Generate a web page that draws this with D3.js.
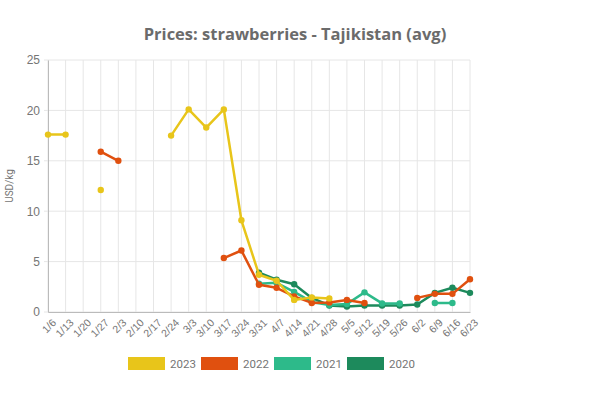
<!DOCTYPE html>
<html>
<head>
<meta charset="utf-8">
<script src="https://cdn.jsdelivr.net/npm/d3@7"></script>
<style>
  body { margin: 0; background: #fff; }
  svg { display: block; font-family: Roboto, "Open Sans", sans-serif; }
</style>
</head>
<body>
<svg id="chart" width="600" height="398"></svg>
<script>
const weeks = ["1/6","1/13","1/20","1/27","2/3","2/10","2/17","2/24","3/3","3/10","3/17","3/24","3/31",
  "4/7","4/14","4/21","4/28","5/5","5/12","5/19","5/26","6/2","6/9","6/16","6/23"]
const yTicks = [0, 5, 10, 15, 20, 25]
const years = ["2023", "2022", "2021", "2020"]
const colors = ["#e8c51a", "#e0500f", "#2dba8a", "#1d8a5c"]

// null = no price that week
const v2023 = [17.6,17.6,null,12.1,null,null,null,17.5,20.1,18.3,20.1,9.1,3.7,3.1,1.2,1.45,1.35,null,null,null,null,null,null,null,null]
const v2022 = [null,null,null,15.9,15.0,null,null,null,null,null,5.35,6.1,2.7,2.4,1.55,0.9,0.95,1.2,0.9,null,null,1.4,1.8,1.8,3.25]
const v2021 = [null,null,null,null,null,null,null,null,null,null,null,null,2.8,2.9,2.0,1.0,0.7,0.8,1.95,0.85,0.85,null,0.9,0.9,null]
const v2020 = [null,null,null,null,null,null,null,null,null,null,null,null,3.9,3.2,2.75,1.4,0.65,0.55,0.65,0.65,0.65,0.75,1.9,2.4,1.9]
const series = [v2023, v2022, v2021, v2020]

const svg = d3.select("#chart")
const plotL = 48, plotR = 470, plotT = 60, plotB = 312

const x = d3.scalePoint().domain(weeks).range([plotL, plotR])
const y = d3.scaleLinear().domain([0, 25]).range([plotB, plotT])

// grid
svg.append("g").selectAll("line").data(weeks).join("line")
  .attr("x1", d => x(d)).attr("x2", d => x(d))
  .attr("y1", plotT).attr("y2", plotB)
  .attr("stroke", "#e6e6e6").attr("stroke-width", 1)
svg.append("g").selectAll("line").data(yTicks).join("line")
  .attr("x1", plotL - 4).attr("x2", plotR)
  .attr("y1", d => y(d)).attr("y2", d => y(d))
  .attr("stroke", "#e6e6e6").attr("stroke-width", 1)

// axes
const yAxis = svg.append("g").attr("transform", `translate(${plotL},0)`)
  .call(d3.axisLeft(y).tickValues(yTicks).tickSize(0).tickPadding(8))
yAxis.select(".domain").attr("stroke", "#bbb")
yAxis.selectAll("text").attr("fill", "#757575").attr("font-size", 12)

const xAxis = svg.append("g").attr("transform", `translate(0,${plotB})`)
  .call(d3.axisBottom(x).tickSize(0))
xAxis.select(".domain").attr("stroke", "#bbb")
xAxis.selectAll("text")
  .attr("fill", "#757575").attr("font-size", 10.5)
  .attr("text-anchor", "end")
  .attr("transform", "translate(1,4) rotate(-45)")
  .attr("dy", "0.7em")

svg.append("text")
  .attr("transform", `translate(13,186) rotate(-90)`)
  .attr("text-anchor", "middle")
  .attr("fill", "#757575").attr("font-size", 10)
  .text("USD/kg")

svg.append("text")
  .attr("x", 295).attr("y", 40)
  .attr("text-anchor", "middle")
  .attr("fill", "#6b6b6b").attr("font-size", 16.5).attr("font-weight", "bold")
  .attr("font-family", "'Open Sans', sans-serif")
  .text("Prices: strawberries - Tajikistan (avg)")

// lines, drawn oldest first
const line = d3.line()
  .defined(d => d != null)
  .x((d, i) => x(weeks[i]))
  .y(d => y(d))

const order = [3, 2, 1, 0]
order.forEach(k => {
  const g = svg.append("g")
  g.append("path")
    .datum(series[k])
    .attr("d", line)
    .attr("fill", "none")
    .attr("stroke", colors[k])
    .attr("stroke-width", 2.5)
    .attr("stroke-linejoin", "round")
  g.selectAll("circle")
    .data(series[k].map((v, i) => ({ v, i })).filter(d => d.v != null))
    .join("circle")
    .attr("cx", d => x(weeks[d.i]))
    .attr("cy", d => y(d.v))
    .attr("r", 3.2)
    .attr("fill", colors[k])
})

// legend
const legend = svg.append("g")
years.forEach((yr, k) => {
  const lx = 128 + k * 73
  legend.append("rect")
    .attr("x", lx).attr("y", 357).attr("width", 37).attr("height", 13)
    .attr("fill", colors[k])
  legend.append("text")
    .attr("x", lx + 42).attr("y", 367.5)
    .attr("fill", "#757575").attr("font-size", 11.5)
    .text(yr)
})
</script>
</body>
</html>
